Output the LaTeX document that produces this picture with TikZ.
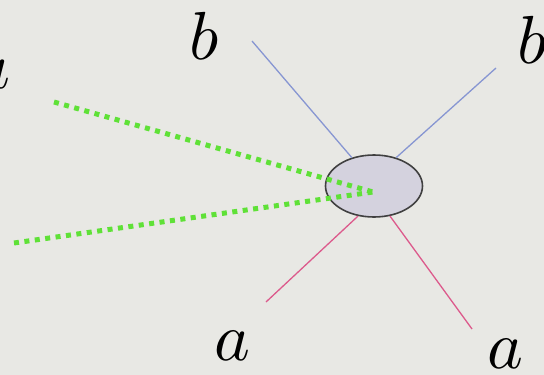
\documentclass[tikz,border=0pt]{standalone}
\usepackage{amsmath,amssymb}
\usepackage{graphicx}
\usepackage{xcolor}
\usepackage{tikz}
\usetikzlibrary{shapes.geometric}

\definecolor{bgcol}{RGB}{232,232,228}
\definecolor{blobfill}{RGB}{212,210,222}
\definecolor{leglblue}{RGB}{135,150,210}
\definecolor{legpink}{RGB}{220,90,140}
\definecolor{leggreen}{RGB}{95,225,55}
\newcommand{\biglbl}[1]{\scalebox{6.8}{$#1$}}

\begin{document}
\begin{tikzpicture}[x=1pt,y=-1pt,
 lbl/.style={inner sep=0pt},
 blob/.style={ellipse,draw=black!75,line width=1.6pt,fill=blobfill,minimum width=97pt,minimum height=62pt,inner sep=0pt},
 bleg/.style={draw=leglblue,line width=1.3pt},
 aleg/.style={draw=legpink,line width=1.3pt},
 soft/.style={draw=leggreen,line width=5pt,dash pattern=on 5pt off 5.5pt}]
\fill[bgcol] (0,0) rectangle (544,375);
\useasboundingbox (0,0) rectangle (544,375);
\clip (0,0) rectangle (544,375);
% vertex and its legs
\node[blob] (vtx) at (374,186) {};
\coordinate (core) at (373,192);
\coordinate (b1) at (252,41);
\coordinate (b2) at (496,68);
\coordinate (a1) at (266,302);
\coordinate (a2) at (472,329);
\coordinate (g1) at (54,102);
\coordinate (g2) at (14,243);
\draw[bleg] (b1) -- (vtx.128);
\draw[bleg] (b2) -- (vtx.52);
\draw[aleg] (a1) -- (vtx.-118);
\draw[aleg] (a2) -- (vtx.-62);
\draw[soft] (g1) -- (core);
\draw[soft] (g2) -- (core);
% labels
\node[lbl] (lb1) at (204,36) {\biglbl{b}};
\node[lbl] (lb2) at (532,40) {\biglbl{b}};
\node[lbl] (la1) at (232,346) {\biglbl{a}};
\node[lbl] (la2) at (505,354) {\biglbl{a}};
\node[lbl] (la0) at (-8,74) {\biglbl{a}};
\end{tikzpicture}
\end{document}
